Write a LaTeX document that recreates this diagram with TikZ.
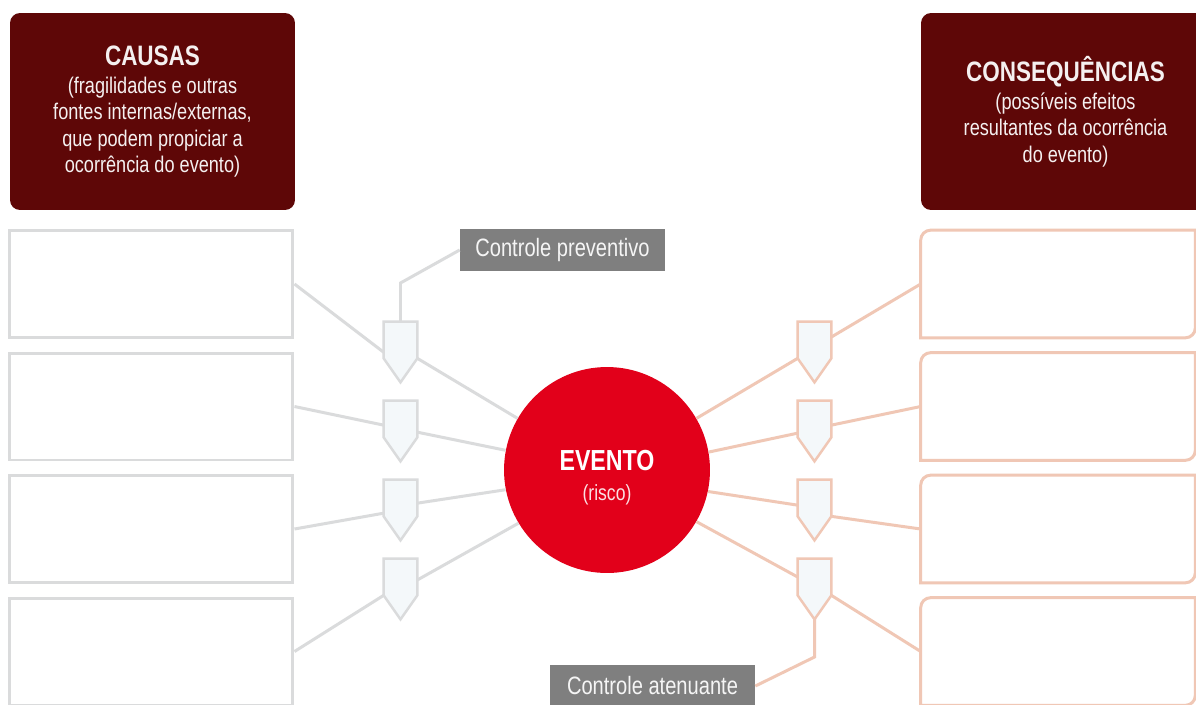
\documentclass[tikz,border=0pt]{standalone}
\usepackage{fontspec}
\setmainfont{Liberation Sans}[FakeStretch=0.8]
\usepackage{tikz}
\usetikzlibrary{positioning}
\definecolor{causebrown}{HTML}{5E0707}
\definecolor{eventred}{HTML}{E2001A}
\definecolor{causegray}{HTML}{DADBDC}
\definecolor{effectpeach}{HTML}{F0C7B5}
\definecolor{ctrlfill}{HTML}{F4F8FA}
\definecolor{tagfill}{HTML}{7F7F7F}
\tikzset{header/.style = {fill=causebrown, text=white!94!causebrown,
                          rounded corners=0.2cm, minimum width=5.7cm,
                          minimum height=3.94cm, align=center,
                          font=\fontsize{12.9}{15}\selectfont}}
\tikzset{causebox/.style = {draw=causegray, line width=1.7pt,
                            minimum width=5.68cm, minimum height=2.14cm}}
\tikzset{effectbox/.style = {minimum width=5.48cm, minimum height=2.14cm}}
\tikzset{ctrl/.style = {inner sep=0pt, minimum width=0.66cm, minimum height=0.72cm}}
\tikzset{tagbox/.style = {fill=tagfill, text=white!92!tagfill, minimum width=4.1cm,
                          minimum height=0.84cm, font=\fontsize{14.3}{15}\selectfont}}
\tikzset{cline/.style = {draw=causegray, line width=1.7pt}}
\tikzset{eline/.style = {draw=effectpeach, line width=1.7pt}}

\begin{document}
\begin{tikzpicture}[x=0.02cm, y=-0.02cm]
      \path[use as bounding box, fill=white] (0,0) rectangle (1196,704);
      \clip (0,0) rectangle (1196,704);
      \node [header] (causas) at (152.5,111.5)
            {{\fontsize{16}{15}\selectfont\bfseries CAUSAS}\\[1pt]
             (fragilidades e outras\\ fontes internas/externas,\\
             que podem propiciar a\\ ocorrência do evento)};
      \node [header, minimum width=5.78cm] (conseq) at (1065.5,111.5)
            {{\fontsize{16}{15}\selectfont\bfseries CONSEQUÊNCIAS}\\[1pt]
             (possíveis efeitos\\ resultantes da ocorrência\\ do evento)};
      \node [causebox] (c1) at (151,284) {};
      \node [causebox] (c2) at (151,406.5) {};
      \node [causebox] (c3) at (151,529) {};
      \node [causebox] (c4) at (151,651.5) {};
      \node [effectbox] (e1) at (1058,284) {};
      \node [effectbox] (e2) at (1058,406.5) {};
      \node [effectbox] (e3) at (1058,529) {};
      \node [effectbox] (e4) at (1058,651.5) {};
      \foreach \e in {e1,e2,e3,e4}
        \draw [eline] (\e.north east) -- ([xshift=0.2cm]\e.north west)
              arc [start angle=90, end angle=180, radius=0.2cm] -- (\e.south west)
              -- ([xshift=-0.2cm]\e.south east)
              arc [start angle=270, end angle=360, radius=0.2cm] -- cycle;
      \node [ctrl] (cl1) at (400.5,340) {};
      \node [ctrl] (cl2) at (400.5,419) {};
      \node [ctrl] (cl3) at (400.5,498) {};
      \node [ctrl] (cl4) at (400.5,577) {};
      \node [ctrl] (cr1) at (814.5,340) {};
      \node [ctrl] (cr2) at (814.5,419) {};
      \node [ctrl] (cr3) at (814.5,498) {};
      \node [ctrl] (cr4) at (814.5,577) {};
      \node [circle, fill=eventred, text=white, minimum size=4.12cm, align=center,
             font=\fontsize{12.5}{15}\selectfont] (ev) at (607,470)
            {\rule{0pt}{20pt}{\fontsize{16.5}{15}\selectfont\bfseries EVENTO}\\[2pt]
             {\color{white!88!eventred}(risco)}};
      \node [tagbox] (prev) at (562.5,250) {Controle preventivo};
      \node [tagbox] (aten) at (652.5,686) {Controle atenuante};
      \coordinate (kp) at (400.5,283);
      \coordinate (ka) at (814.5,657);
      \draw [cline] (prev.west) -- (kp) -- (cl1.north);
      \draw [eline] (cr4.south) -- (ka) -- (aten.east);
      \draw [cline] (c1.east) -- (cl1.216) (cl1.south east) -- (ev.150);
      \draw [cline] (c2.east) -- (cl2.200) (cl2.322) -- (ev.169);
      \draw [cline] (c3.east) -- (cl3.222) (cl3.343) -- (ev.191);
      \draw [cline] (c4.east) -- (cl4.south west) (cl4.350) -- (ev.211);
      \draw [eline] (ev.30) -- (cr1.south west) (cr1.10) -- (e1.west);
      \draw [eline] (ev.10) -- (cr2.220) (cr2.340) -- (e2.west);
      \draw [eline] (ev.348) -- (cr3.203) (cr3.south east) -- (e3.west);
      \draw [eline] (ev.330) -- (cr4.west) (cr4.south east) -- (e4.west);
      \foreach \c in {cl1,cl2,cl3,cl4}
        \draw [draw=causegray, fill=ctrlfill, line width=1.4pt]
              (\c.north west) -- (\c.north east) -- (\c.south east)
              -- ([shift={(0,24)}]\c.south) -- (\c.south west) -- cycle;
      \foreach \c in {cr1,cr2,cr3,cr4}
        \draw [draw=effectpeach, fill=ctrlfill, line width=1.4pt]
              (\c.north west) -- (\c.north east) -- (\c.south east)
              -- ([shift={(0,24)}]\c.south) -- (\c.south west) -- cycle;
    \end{tikzpicture}
\end{document}
